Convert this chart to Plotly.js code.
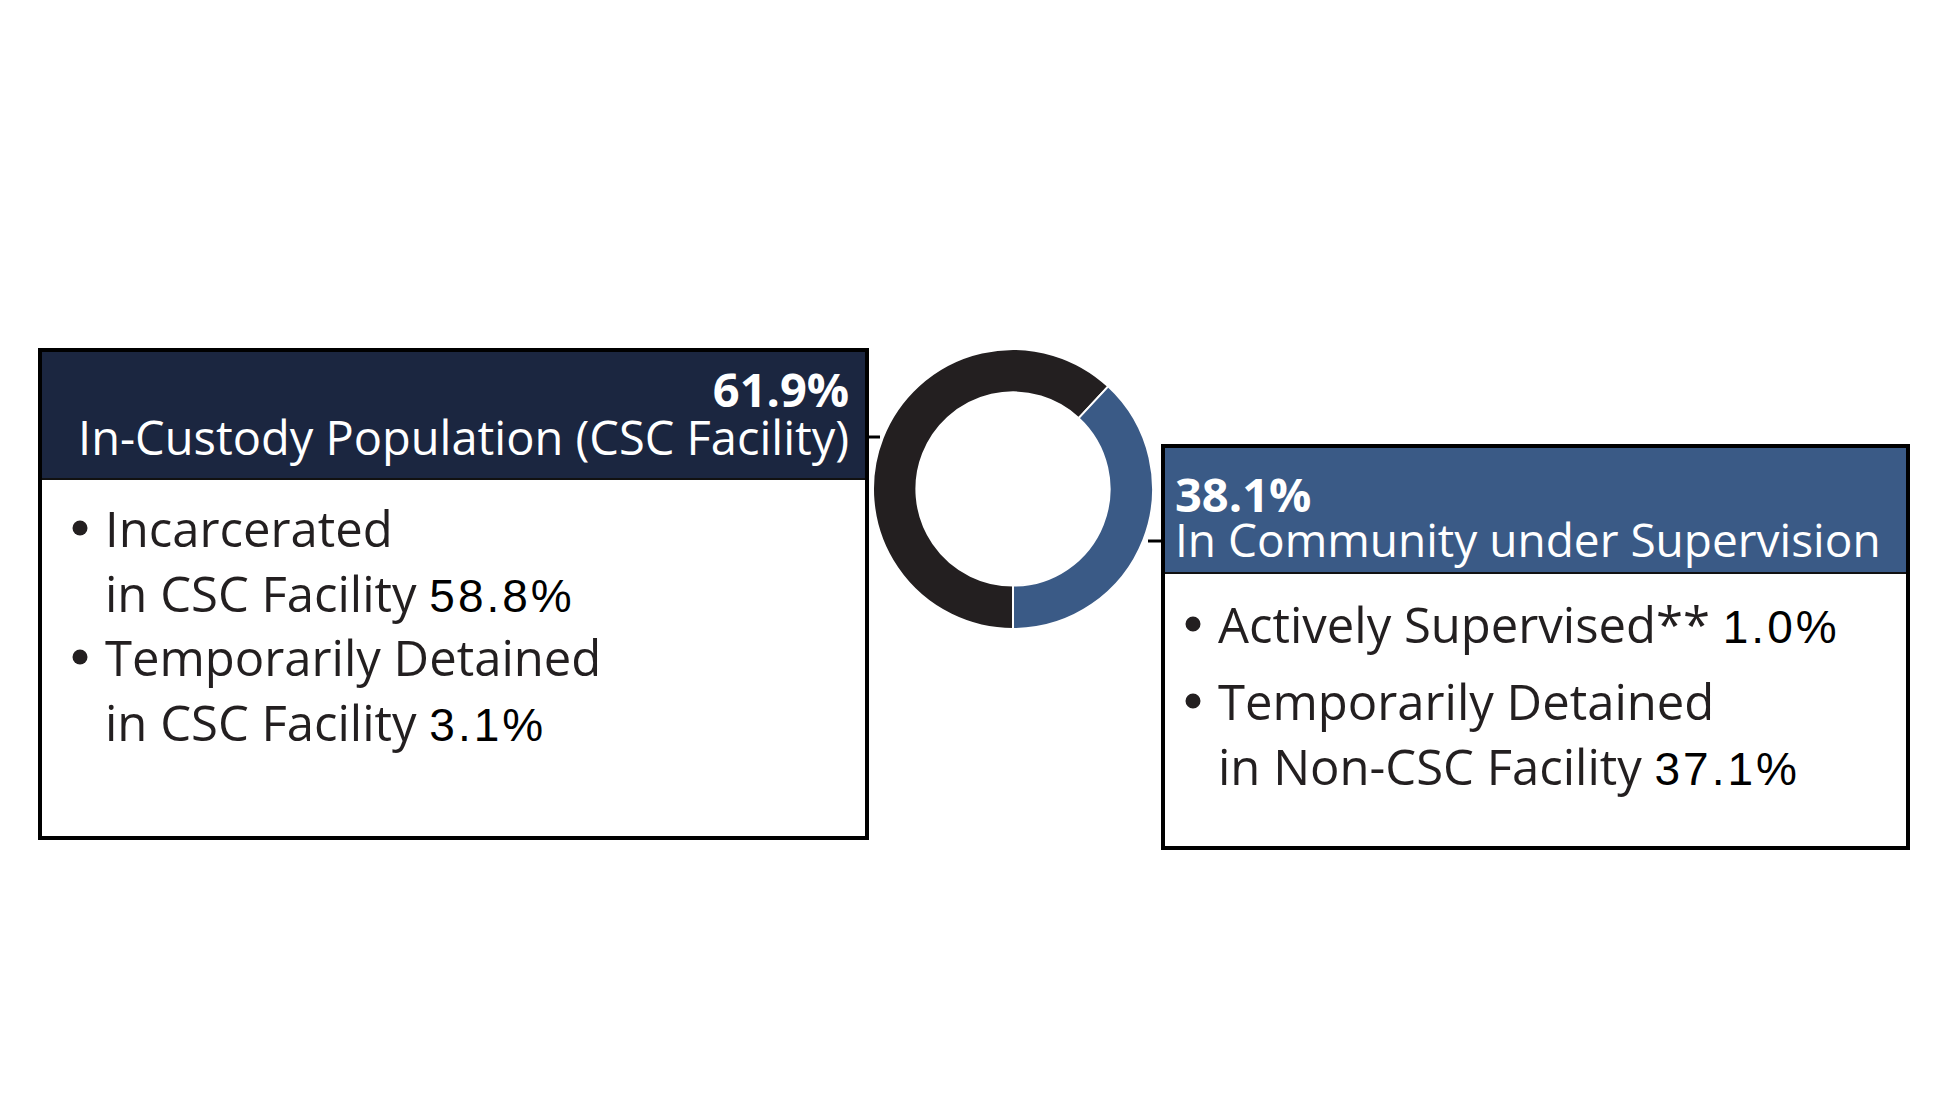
<!DOCTYPE html>
<html>
<head>
<meta charset="utf-8">
<script src="https://cdn.plot.ly/plotly-3.0.1.min.js"></script>
<style>html,body{margin:0;padding:0;background:#fff;}#chart{width:1950px;height:1096px;}</style>
</head>
<body>
<div id="chart"></div>
<script>
// ---- data ----
const sliceLabels = ['In-Custody Population (CSC Facility)', 'In Community under Supervision'];
const sliceValues = [61.9, 38.1];
const sliceColors = ['#231f20', '#3a5a86'];
const headerColors = ['#1b2640', '#3a5a86'];
const custodyItems = ['Incarcerated', 'in CSC Facility', 'Temporarily Detained', 'in CSC Facility'];
const custodyValues = [null, 58.8, null, 3.1];
const communityItems = ['Actively Supervised**', 'Temporarily Detained', 'in Non-CSC Facility'];
const communityValues = [1.0, null, 37.1];

// ---- layout helpers ----
const W = 1950, H = 1096;
const px = x => x / W;
const py = y => 1 - y / H;
const FONT = 'Open Sans';

function pct(v) { return v.toFixed(1) + '%'; }

const shapes = [];
const annotations = [];

function box(x0, y0, x1, y1, hy, color) {
  shapes.push({type: 'rect', xref: 'paper', yref: 'paper', x0: px(x0), x1: px(x1), y0: py(y0), y1: py(hy),
    fillcolor: color, line: {width: 0}, layer: 'below'});
  shapes.push({type: 'line', xref: 'paper', yref: 'paper', x0: px(x0), x1: px(x1), y0: py(hy), y1: py(hy),
    line: {color: '#111', width: 2}});
  shapes.push({type: 'rect', xref: 'paper', yref: 'paper', x0: px(x0), x1: px(x1), y0: py(y0), y1: py(y1),
    fillcolor: 'rgba(0,0,0,0)', line: {color: '#000', width: 4}});
}
function bullet(cx, cy) {
  shapes.push({type: 'circle', xref: 'paper', yref: 'paper', x0: px(cx - 7.5), x1: px(cx + 7.5),
    y0: py(cy + 7.5), y1: py(cy - 7.5), fillcolor: '#231f20', line: {width: 0}});
}
function txt(x, y, text, size, anchor, color) {
  annotations.push({xref: 'paper', yref: 'paper', x: px(x), y: py(y), text: text,
    showarrow: false, xanchor: anchor, yanchor: 'middle', align: anchor === 'right' ? 'right' : 'left',
    borderpad: 0, borderwidth: 0,
    font: {family: FONT, size: size, color: color}});
}
function header(x, y, anchor, value, label, lineGap, labelSize) {
  const t = '<b><span style="font-size:47px">' + pct(value) + '</span></b><br>' +
            '<span style="font-size:' + labelSize + 'px">' + label + '</span>';
  txt(x, y, t, lineGap / 1.3, anchor, '#fff');
}
function item(t, v) {
  return v === null ? t : t + ' <span style="font-family:Liberation Sans;font-size:46px;letter-spacing:3px;color:#000">' + pct(v) + '</span>';
}

// left box
box(40, 350, 867, 838, 479, headerColors[0]);
header(849, 413, 'right', sliceValues[0], sliceLabels[0], 48, 47);
const leftY = [528, 593, 657, 722];
custodyItems.forEach((t, i) => {
  if (i % 2 === 0) bullet(80, leftY[i]);
  txt(105, leftY[i], item(t, custodyValues[i]), 49, 'left', '#231f20');
});

// right box
box(1163, 446, 1908, 848, 573, headerColors[1]);
header(1175, 516, 'left', sliceValues[1], sliceLabels[1], 45, 46);
const rightY = [624, 701, 766];
communityItems.forEach((t, i) => {
  if (i < 2) bullet(1193, rightY[i]);
  txt(1218, rightY[i], item(t, communityValues[i]), 49, 'left', '#231f20');
});

// connectors
shapes.push({type: 'line', xref: 'paper', yref: 'paper', x0: px(867), x1: px(880), y0: py(437), y1: py(437), line: {color: '#000', width: 3}});
shapes.push({type: 'line', xref: 'paper', yref: 'paper', x0: px(1148), x1: px(1163), y0: py(541), y1: py(541), line: {color: '#000', width: 3}});

const trace = {
  type: 'pie',
  labels: sliceLabels,
  values: sliceValues,
  hole: 0.69,
  sort: false,
  direction: 'clockwise',
  rotation: 180,
  textinfo: 'none',
  hoverinfo: 'label+percent',
  marker: {colors: sliceColors, line: {color: '#fff', width: 2}},
  domain: {x: [px(873), px(1153)], y: [py(629), py(349)]},
  showlegend: false
};

const layout = {
  width: W, height: H,
  margin: {l: 0, r: 0, t: 0, b: 0},
  paper_bgcolor: '#fff',
  showlegend: false,
  shapes: shapes,
  annotations: annotations
};

Plotly.newPlot('chart', [trace], layout, {displayModeBar: false, staticPlot: true});
</script>
</body>
</html>
